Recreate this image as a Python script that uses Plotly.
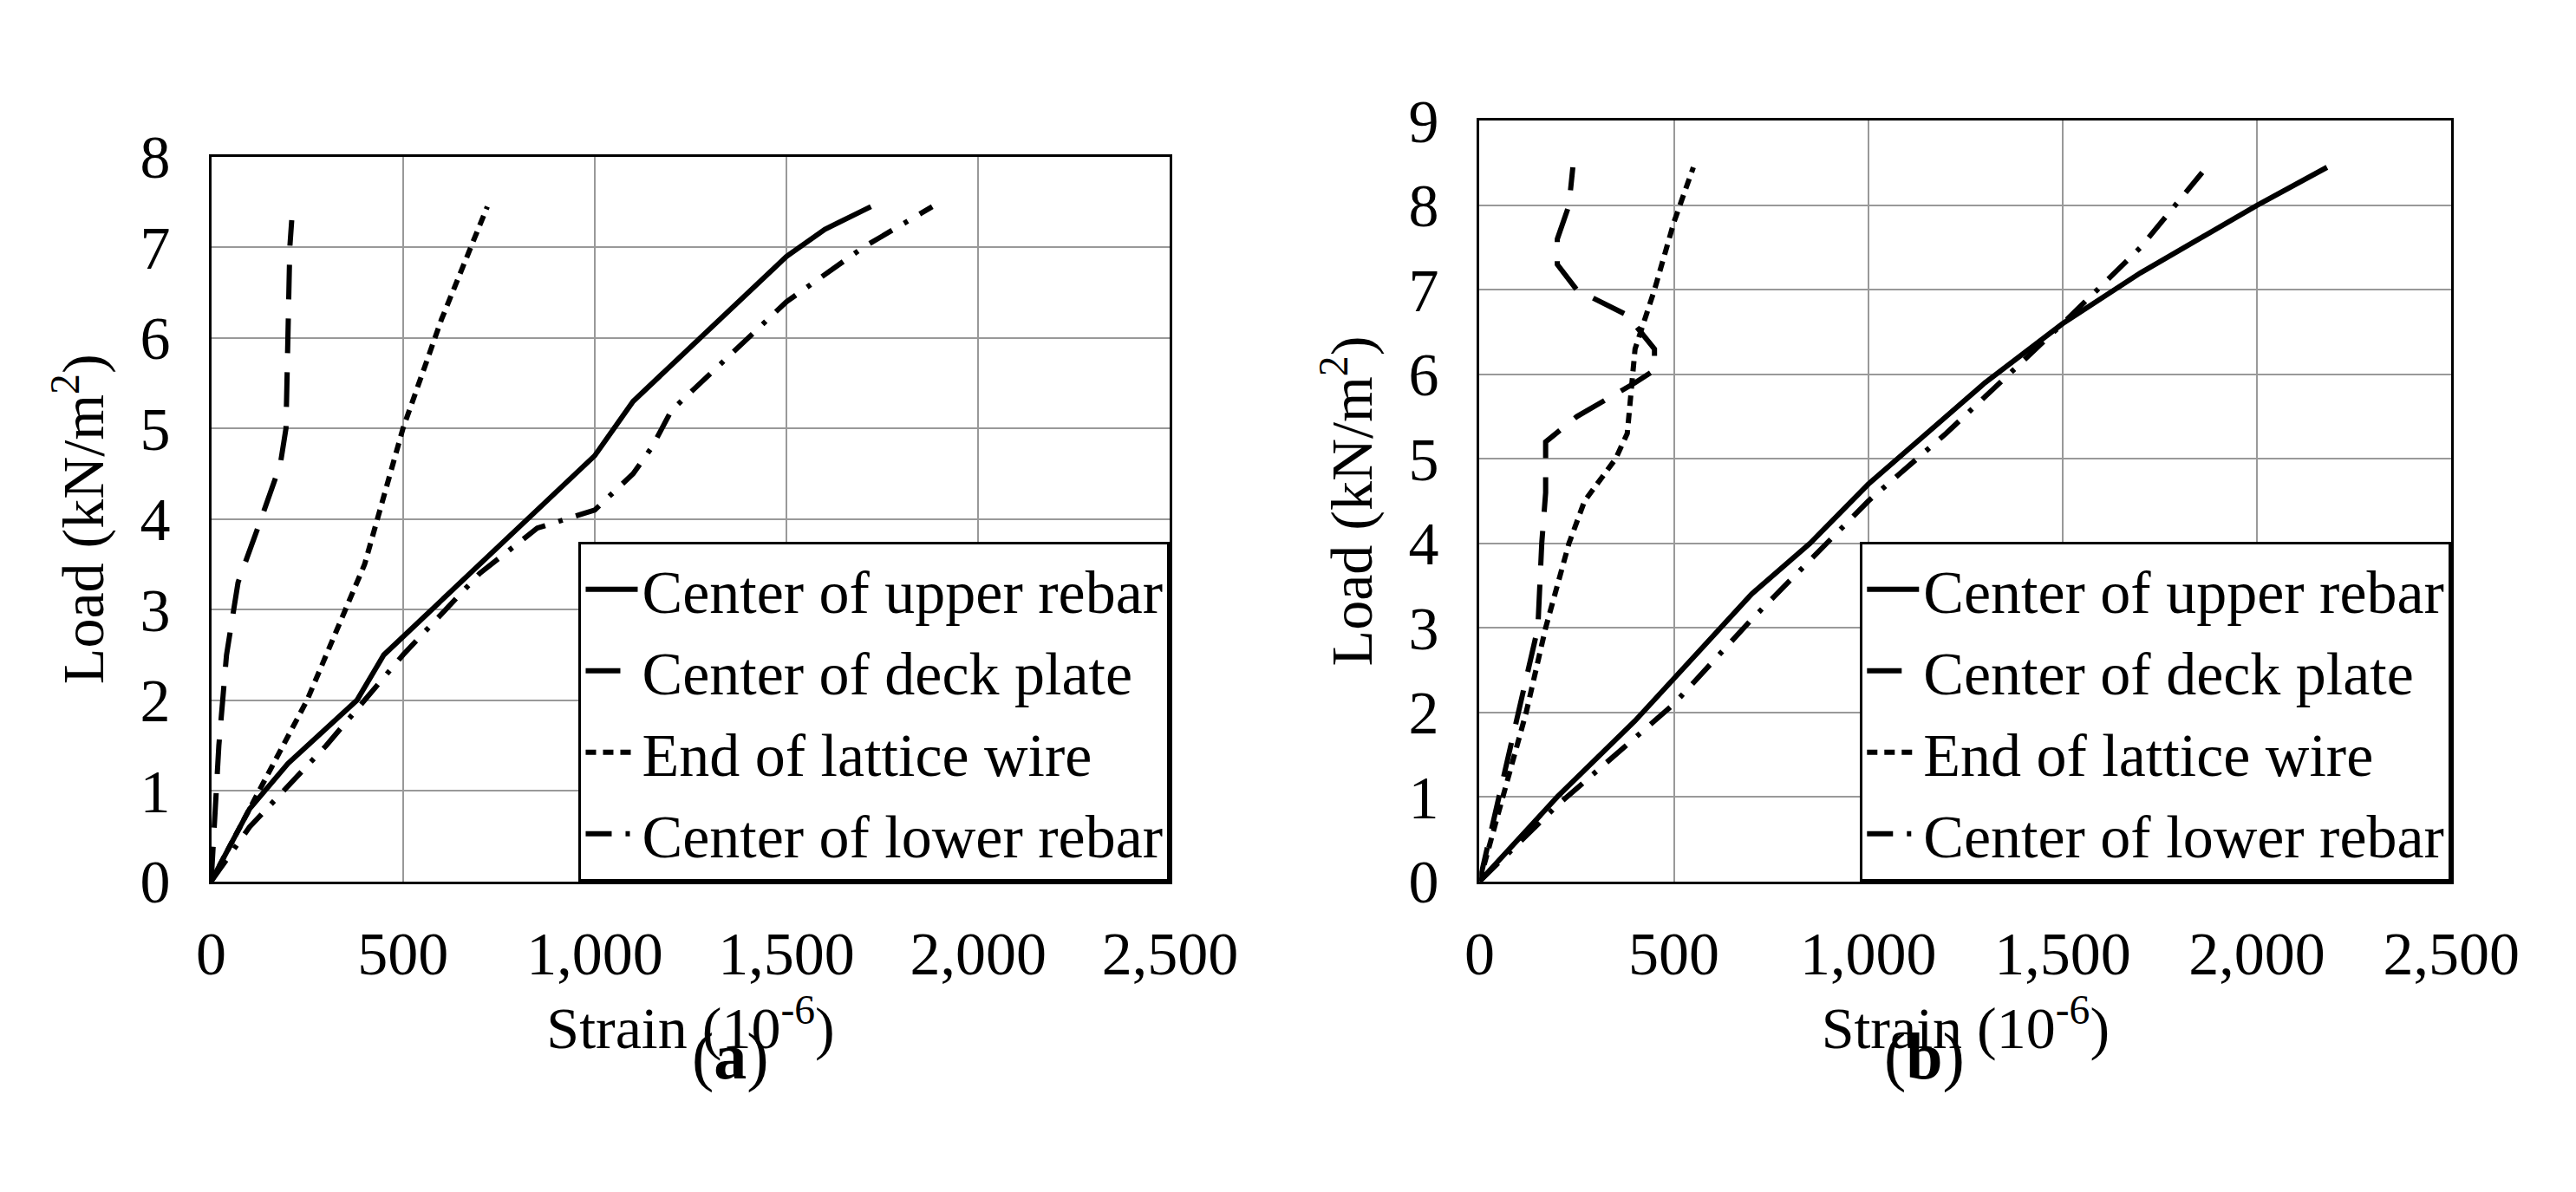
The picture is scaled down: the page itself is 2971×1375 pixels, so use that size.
import plotly.graph_objects as go

# (a)
a_upper_x = [0, 100, 200, 380, 450, 600, 800, 950, 1000, 1100, 1300, 1500, 1600, 1720]
a_upper_y = [0, 0.8, 1.3, 2.0, 2.5, 3.1, 3.9, 4.5, 4.7, 5.3, 6.1, 6.9, 7.2, 7.45]
a_deck_x = [0, 20, 40, 70, 130, 180, 195, 200, 205, 210]
a_deck_y = [0, 1.5, 2.5, 3.3, 4.0, 4.6, 5.0, 6.0, 7.0, 7.3]
a_wire_x = [0, 100, 250, 400, 500, 600, 720]
a_wire_y = [0, 0.8, 2.0, 3.5, 5.0, 6.2, 7.45]
a_lower_x = [0, 100, 300, 500, 700, 850, 1000, 1100, 1150, 1200, 1500, 1700, 1880]
a_lower_y = [0, 0.6, 1.5, 2.5, 3.4, 3.9, 4.1, 4.5, 4.8, 5.2, 6.4, 7.0, 7.45]

# (b)
b_upper_x = [0, 200, 400, 600, 700, 850, 1000, 1100, 1300, 1500, 1700, 2000, 2180]
b_upper_y = [0, 1.0, 1.9, 2.9, 3.4, 4.0, 4.7, 5.1, 5.9, 6.6, 7.2, 8.0, 8.45]
b_deck_x = [0, 50, 100, 150, 160, 170, 170, 250, 400, 450, 450, 380, 250, 200, 200, 230, 240]
b_deck_y = [0, 1.0, 2.0, 3.0, 4.0, 4.6, 5.2, 5.5, 5.9, 6.05, 6.3, 6.7, 7.0, 7.3, 7.6, 8.0, 8.45]
b_wire_x = [0, 60, 120, 170, 230, 270, 350, 380, 390, 400, 450, 500, 550]
b_wire_y = [0, 1.0, 2.0, 3.0, 4.0, 4.5, 5.0, 5.3, 5.8, 6.3, 7.0, 7.8, 8.45]
b_lower_x = [0, 200, 500, 700, 1000, 1200, 1500, 1700, 1870]
b_lower_y = [0, 0.9, 2.1, 3.1, 4.5, 5.3, 6.6, 7.5, 8.45]

names = ["Center of upper rebar", "Center of deck plate", "End of lattice wire", "Center of lower rebar"]
dashes = ["solid", "40px,22px", "12px,8px", "30px,16px,5px,16px"]
FONT = "Liberation Serif"

fig = go.Figure()
panels = [
    ("x", "y", "legend", [(a_upper_x, a_upper_y), (a_deck_x, a_deck_y), (a_wire_x, a_wire_y), (a_lower_x, a_lower_y)]),
    ("x2", "y2", "legend2", [(b_upper_x, b_upper_y), (b_deck_x, b_deck_y), (b_wire_x, b_wire_y), (b_lower_x, b_lower_y)]),
]
for xa, ya, lg, series in panels:
    for (xs, ys), name, dash in zip(series, names, dashes):
        fig.add_trace(go.Scatter(x=xs, y=ys, mode="lines", name=name, xaxis=xa, yaxis=ya,
                                 legend=lg, line=dict(color="black", width=6, dash=dash)))

ax = dict(range=[0, 2500], dtick=500, tickformat=",d", showgrid=True, gridcolor="#999999",
          gridwidth=2, showline=True, linecolor="black", linewidth=3, mirror=True, zeroline=False,
          tickfont=dict(family=FONT, size=70, color="black"), ticks="", ticklabelstandoff=20,
          title=dict(text="Strain (10<sup>-6</sup>)", font=dict(family=FONT, size=68, color="black"), standoff=4))
ay = dict(showgrid=True, gridcolor="#999999", gridwidth=2, showline=True, linecolor="black",
          linewidth=3, mirror=True, zeroline=False, dtick=1, ticks="", ticklabelstandoff=30,
          tickfont=dict(family=FONT, size=70, color="black"),
          title=dict(text="Load (kN/m<sup>2</sup>)", font=dict(family=FONT, size=68, color="black"), standoff=20))

leg = dict(bgcolor="white", bordercolor="black", borderwidth=3, xanchor="right", yanchor="bottom",
           font=dict(family=FONT, size=70, color="black"), tracegroupgap=0, itemwidth=60)

fig.update_layout(
    width=2971, height=1375, autosize=False, plot_bgcolor="white", paper_bgcolor="white",
    margin=dict(l=0, r=0, t=0, b=0),
    xaxis=dict(ax, domain=[0.0757, 0.4605], anchor="y"),
    yaxis=dict(ay, domain=[0.2516, 0.896], range=[0, 8], anchor="x"),
    xaxis2=dict(ax, domain=[0.5847, 0.9747], anchor="y2"),
    yaxis2=dict(ay, domain=[0.2516, 0.928], range=[0, 9], anchor="x2"),
    legend=dict(leg, x=0.4605, y=0.2516),
    legend2=dict(leg, x=0.9747, y=0.2516),
    annotations=[
        dict(text="(<b>a</b>)", x=0.268, y=0.062, xref="paper", yref="paper", showarrow=False,
             font=dict(family=FONT, size=76, color="black")),
        dict(text="(<b>b</b>)", x=0.78, y=0.062, xref="paper", yref="paper", showarrow=False,
             font=dict(family=FONT, size=76, color="black")),
    ],
)

fig.write_html("out.html")
